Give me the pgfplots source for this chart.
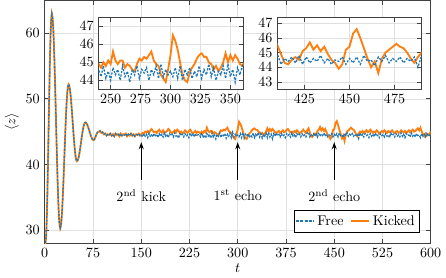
\documentclass[border=0pt]{standalone}
\usepackage{pgfplots}
\pgfplotsset{compat=1.18}
\usepackage{pgfplotstable}
\usetikzlibrary{calc,arrows.meta}
\definecolor{cfree}{RGB}{31,119,180}
\definecolor{ckick}{RGB}{255,127,14}

\pgfplotstableread{
t free kicked
0 27 27
1 28 28
2 28.86 28.86
3 31.34 31.34
4 35.21 35.21
5 40.09 40.09
6 45.5 45.5
7 50.91 50.91
8 55.79 55.79
9 59.66 59.66
10 62.14 62.14
11 63 63
12 62.52 62.52
13 61.13 61.13
14 58.89 58.89
15 55.94 55.94
16 52.45 52.45
17 48.62 48.62
18 44.68 44.68
19 40.85 40.85
20 37.36 37.36
21 34.41 34.41
22 32.17 32.17
23 30.78 30.78
24 30.3 30.3
25 30.62 30.62
26 31.55 31.55
27 33.05 33.05
28 35.03 35.03
29 37.37 37.37
30 39.93 39.93
31 42.57 42.57
32 45.13 45.13
33 47.47 47.47
34 49.45 49.45
35 50.95 50.95
36 51.88 51.88
37 52.2 52.2
38 52.03 52.03
39 51.53 51.53
40 50.73 50.73
41 49.67 49.67
42 48.42 48.42
43 47.05 47.05
44 45.65 45.65
45 44.28 44.28
46 43.03 43.03
47 41.97 41.97
48 41.17 41.17
49 40.67 40.67
50 40.5 40.5
51 40.59 40.59
52 40.84 40.84
53 41.24 41.24
54 41.77 41.77
55 42.40 42.40
56 43.09 43.09
57 43.81 43.81
58 44.50 44.50
59 45.13 45.13
60 45.66 45.66
61 46.06 46.06
62 46.31 46.31
63 46.4 46.4
64 46.36 46.36
65 46.25 46.25
66 46.06 46.06
67 45.82 45.82
68 45.53 45.53
69 45.21 45.21
70 44.89 44.89
71 44.57 44.57
72 44.28 44.28
73 44.04 44.04
74 43.85 43.85
75 43.74 43.74
76 43.7 43.7
77 43.8 43.8
78 44.0 44.0
80 44.5 44.5
82 44.9 44.9
84 45.0 45.0
86 45.1 45.1
88 44.8 44.8
90 44.9 44.9
92 44.6 44.6
94 44.7 44.7
96 44.4 44.4
98 44.6 44.6
100 44.5 44.5
102 44.7 44.7
104 44.4 44.4
106 44.6 44.6
108 44.3 44.3
110 44.7 44.7
112 44.5 44.5
114 44.6 44.6
116 44.3 44.3
118 44.7 44.7
120 44.4 44.4
122 44.6 44.6
124 44.5 44.5
126 44.7 44.7
128 44.3 44.3
130 44.6 44.6
132 44.4 44.4
134 44.7 44.7
136 44.4 44.4
138 44.6 44.6
140 44.3 44.3
142 44.6 44.6
144 44.5 44.5
146 44.7 44.7
148 44.4 44.4
150 44.5 44.6
152 44.2 44.8
154 44.7 44.7
156 44.3 45.0
158 44.6 44.9
160 44.1 45.1
162 44.8 44.8
164 44.3 45.2
166 44.5 45.4
168 44.2 45.1
170 44.7 44.9
172 44.4 45.0
174 44.6 44.8
176 44.1 45.1
178 44.7 45.3
180 44.3 45.0
182 44.6 44.9
184 44.2 45.2
186 44.8 44.8
188 44.3 44.9
190 44.5 45.1
192 44.1 45.4
194 44.7 45.2
196 44.4 44.9
198 44.6 44.8
200 44.2 45.0
202 44.8 45.2
204 44.3 44.9
206 44.5 45.3
208 44.0 45.1
210 44.7 44.8
212 44.4 45.0
214 44.6 44.7
216 44.2 44.9
218 44.7 45.2
220 44.3 45.0
222 44.5 44.8
224 44.1 45.1
226 44.8 45.3
228 44.4 45.0
230 44.6 44.7
232 44.2 44.9
234 44.7 45.1
236 44.3 44.8
238 44.5 45.0
240 44.6 44.9
242 44.2 44.7
244 44.8 45.0
246 44.1 44.8
248 44.5 45.1
250 44.0 44.9
252 44.7 45.6
254 44.3 45.1
256 44.6 44.9
258 44.0 45.1
260 44.8 45.1
262 44.2 44.7
264 44.5 44.9
266 43.9 44.8
268 44.6 44.6
270 44.3 44.5
272 44.8 44.9
274 44.1 45.2
276 44.6 45.1
278 44.4 45.3
280 44.7 45.2
282 44.0 45.4
284 44.6 45.6
286 44.3 45.1
288 44.8 44.9
290 44.1 44.8
292 44.9 44.3
294 44.2 44.1
296 44.6 43.9
298 44.3 44.6
300 44.5 45.4
302 44.2 46.5
304 44.7 46.2
306 44.1 45.7
308 44.8 45.0
310 44.0 44.3
312 44.6 44.0
314 44.3 43.9
316 44.7 44.4
318 44.1 44.7
320 44.5 44.9
322 44.2 45.2
324 44.8 45.4
326 44.1 45.5
328 44.6 45.3
330 44.3 45.3
332 44.9 45.0
334 44.2 44.9
336 44.7 44.6
338 44.0 44.8
340 44.5 44.5
342 44.3 44.7
344 44.8 45.0
346 44.1 45.5
348 44.9 45.0
350 44.2 45.4
352 44.6 45.1
354 43.9 45.4
356 44.7 45.2
358 44.3 44.9
360 44.8 44.8
362 44.4 45.0
364 44.6 45.1
366 44.2 44.8
368 44.7 45.0
370 44.3 45.2
372 44.5 44.9
374 44.1 45.0
376 44.7 45.3
378 44.4 45.4
380 44.6 45.1
382 44.2 44.9
384 44.8 45.0
386 44.3 44.8
388 44.5 45.1
390 44.1 44.9
392 44.7 45.2
394 44.4 45.0
396 44.6 44.7
398 44.2 44.9
400 44.7 45.1
402 44.3 45.3
404 44.5 45.0
406 44.2 44.8
408 44.8 45.2
410 44.9 45.5
412 44.2 44.9
414 44.6 44.3
416 44.4 44.2
418 44.7 44.5
420 44.3 44.7
422 44.8 44.5
424 44.2 45.1
426 44.7 45.3
428 44.3 45.7
430 44.6 45.2
432 44.4 45.5
434 44.8 45.1
436 44.3 45.4
438 44.6 44.9
440 44.2 44.5
442 44.5 44.3
444 44.4 43.9
446 44.7 44.2
448 44.2 45.2
450 44.6 45.4
452 44.3 46.3
454 44.7 46.6
456 44.2 46.0
458 44.8 45.3
460 44.4 44.6
462 44.5 44.0
464 44.1 44.4
466 44.7 43.6
468 44.4 44.6
470 44.8 45.0
472 44.3 45.2
474 44.6 45.4
476 44.4 45.6
478 44.7 45.4
480 44.3 45.3
482 44.6 45.0
484 44.4 44.6
486 44.7 44.3
488 44.0 44.7
490 44.8 45.0
492 44.3 44.9
494 44.6 45.1
496 44.2 44.8
498 44.7 45.0
500 44.4 45.2
502 44.5 44.9
504 44.1 45.0
506 44.7 45.3
508 44.3 45.1
510 44.6 44.8
512 44.2 45.0
514 44.8 44.9
516 44.3 45.2
518 44.5 45.0
520 44.1 44.7
522 44.7 44.9
524 44.4 45.1
526 44.6 44.9
528 44.2 45.2
530 44.7 45.0
532 44.3 44.8
534 44.5 45.1
536 44.1 44.9
538 44.8 45.0
540 44.4 45.2
542 44.6 44.9
544 44.2 44.8
546 44.7 45.0
548 44.3 45.1
550 44.5 44.8
552 44.2 44.9
554 44.8 45.2
556 44.3 45.0
558 44.6 44.9
560 44.1 45.1
562 44.7 44.8
564 44.4 45.0
566 44.5 45.2
568 44.2 44.9
570 44.8 45.1
572 44.3 45.3
574 44.6 45.0
576 44.2 45.1
578 44.7 45.3
580 44.4 45.5
582 44.5 45.2
584 44.1 45.6
586 44.7 45.0
588 44.3 44.6
590 44.6 44.3
592 44.2 44.7
594 44.7 44.4
596 44.3 44.6
598 44.5 44.5
600 44.4 45.1
}\data

\pgfplotsset{
  mystyle/.style={
    scale only axis,
    grid=major,
    grid style={black!12, line width=0.4pt},
    axis line style={black!75, line width=0.5pt},
    tick style={black!75, line width=0.5pt},
    major tick length=3pt,
    tick align=inside,
    axis background/.style={fill=white},
  }
}

\begin{document}
\begin{tikzpicture}
\begin{axis}[mystyle, name=main,
  width=273.6pt, height=172.2pt,
  xmin=0, xmax=600, ymin=28, ymax=65,
  xtick={0,75,...,600}, ytick={30,40,50,60},
  xlabel={$t$}, ylabel={$\langle z\rangle$},
  xlabel style={yshift=2pt},
  ylabel style={yshift=-2pt},
  legend columns=2,
  legend style={at={(0.9706,0.0447)}, anchor=south east, draw=black, line width=0.5pt,
    inner xsep=1pt, inner ysep=1.5pt, font=\normalsize,
    /tikz/every even column/.append style={column sep=3pt}},
  legend image code/.code={\draw[#1] (0pt,0pt) -- (12.5pt,0pt);},
  legend cell align=left,
]
\addlegendimage{cfree, dash pattern=on 2pt off 1pt, line width=1pt}
\addlegendentry[text depth=0pt]{Free}
\addplot[ckick, line width=1.3pt] table[x=t, y=kicked]{\data};
\addlegendentry{Kicked}
\addplot[cfree, dash pattern=on 1.5pt off 1pt, line width=0.9pt, forget plot] table[x=t, y=free]{\data};

\draw[-{Stealth[length=5pt,width=3.5pt]}, line width=0.8pt] (axis cs:150,37.6) -- (axis cs:150,43.4);
\draw[-{Stealth[length=5pt,width=3.5pt]}, line width=0.8pt] (axis cs:300,37.6) -- (axis cs:300,43.4);
\draw[-{Stealth[length=5pt,width=3.5pt]}, line width=0.8pt] (axis cs:450,37.6) -- (axis cs:450,43.4);
\node at (axis cs:150,35.3) {2\textsuperscript{nd} kick};
\node at (axis cs:300,35.3) {1\textsuperscript{st} echo};
\node at (axis cs:450,35.3) {2\textsuperscript{nd} echo};
\end{axis}

\begin{axis}[mystyle,
  at={($(main.north west)+(38.2pt,-12.1pt)$)}, anchor=north west,
  width=102.7pt, height=50.9pt,
  xmin=240, xmax=361, ymin=43.5, ymax=47.5,
  xtick={250,275,300,325,350}, ytick={44,45,46,47},
]
\addplot[ckick, line width=1.3pt] table[x=t, y=kicked]{\data};
\addplot[cfree, dash pattern=on 1.5pt off 1pt, line width=0.9pt] table[x=t, y=free]{\data};
\end{axis}

\begin{axis}[mystyle,
  at={($(main.north west)+(164.9pt,-12.1pt)$)}, anchor=north west,
  width=102.2pt, height=50.9pt,
  xmin=410, xmax=490, ymin=42.5, ymax=47.4,
  xtick={425,450,475}, ytick={43,44,45,46,47},
]
\addplot[ckick, line width=1.3pt] table[x=t, y=kicked]{\data};
\addplot[cfree, dash pattern=on 1.5pt off 1pt, line width=0.9pt] table[x=t, y=free]{\data};
\end{axis}
\end{tikzpicture}
\end{document}
